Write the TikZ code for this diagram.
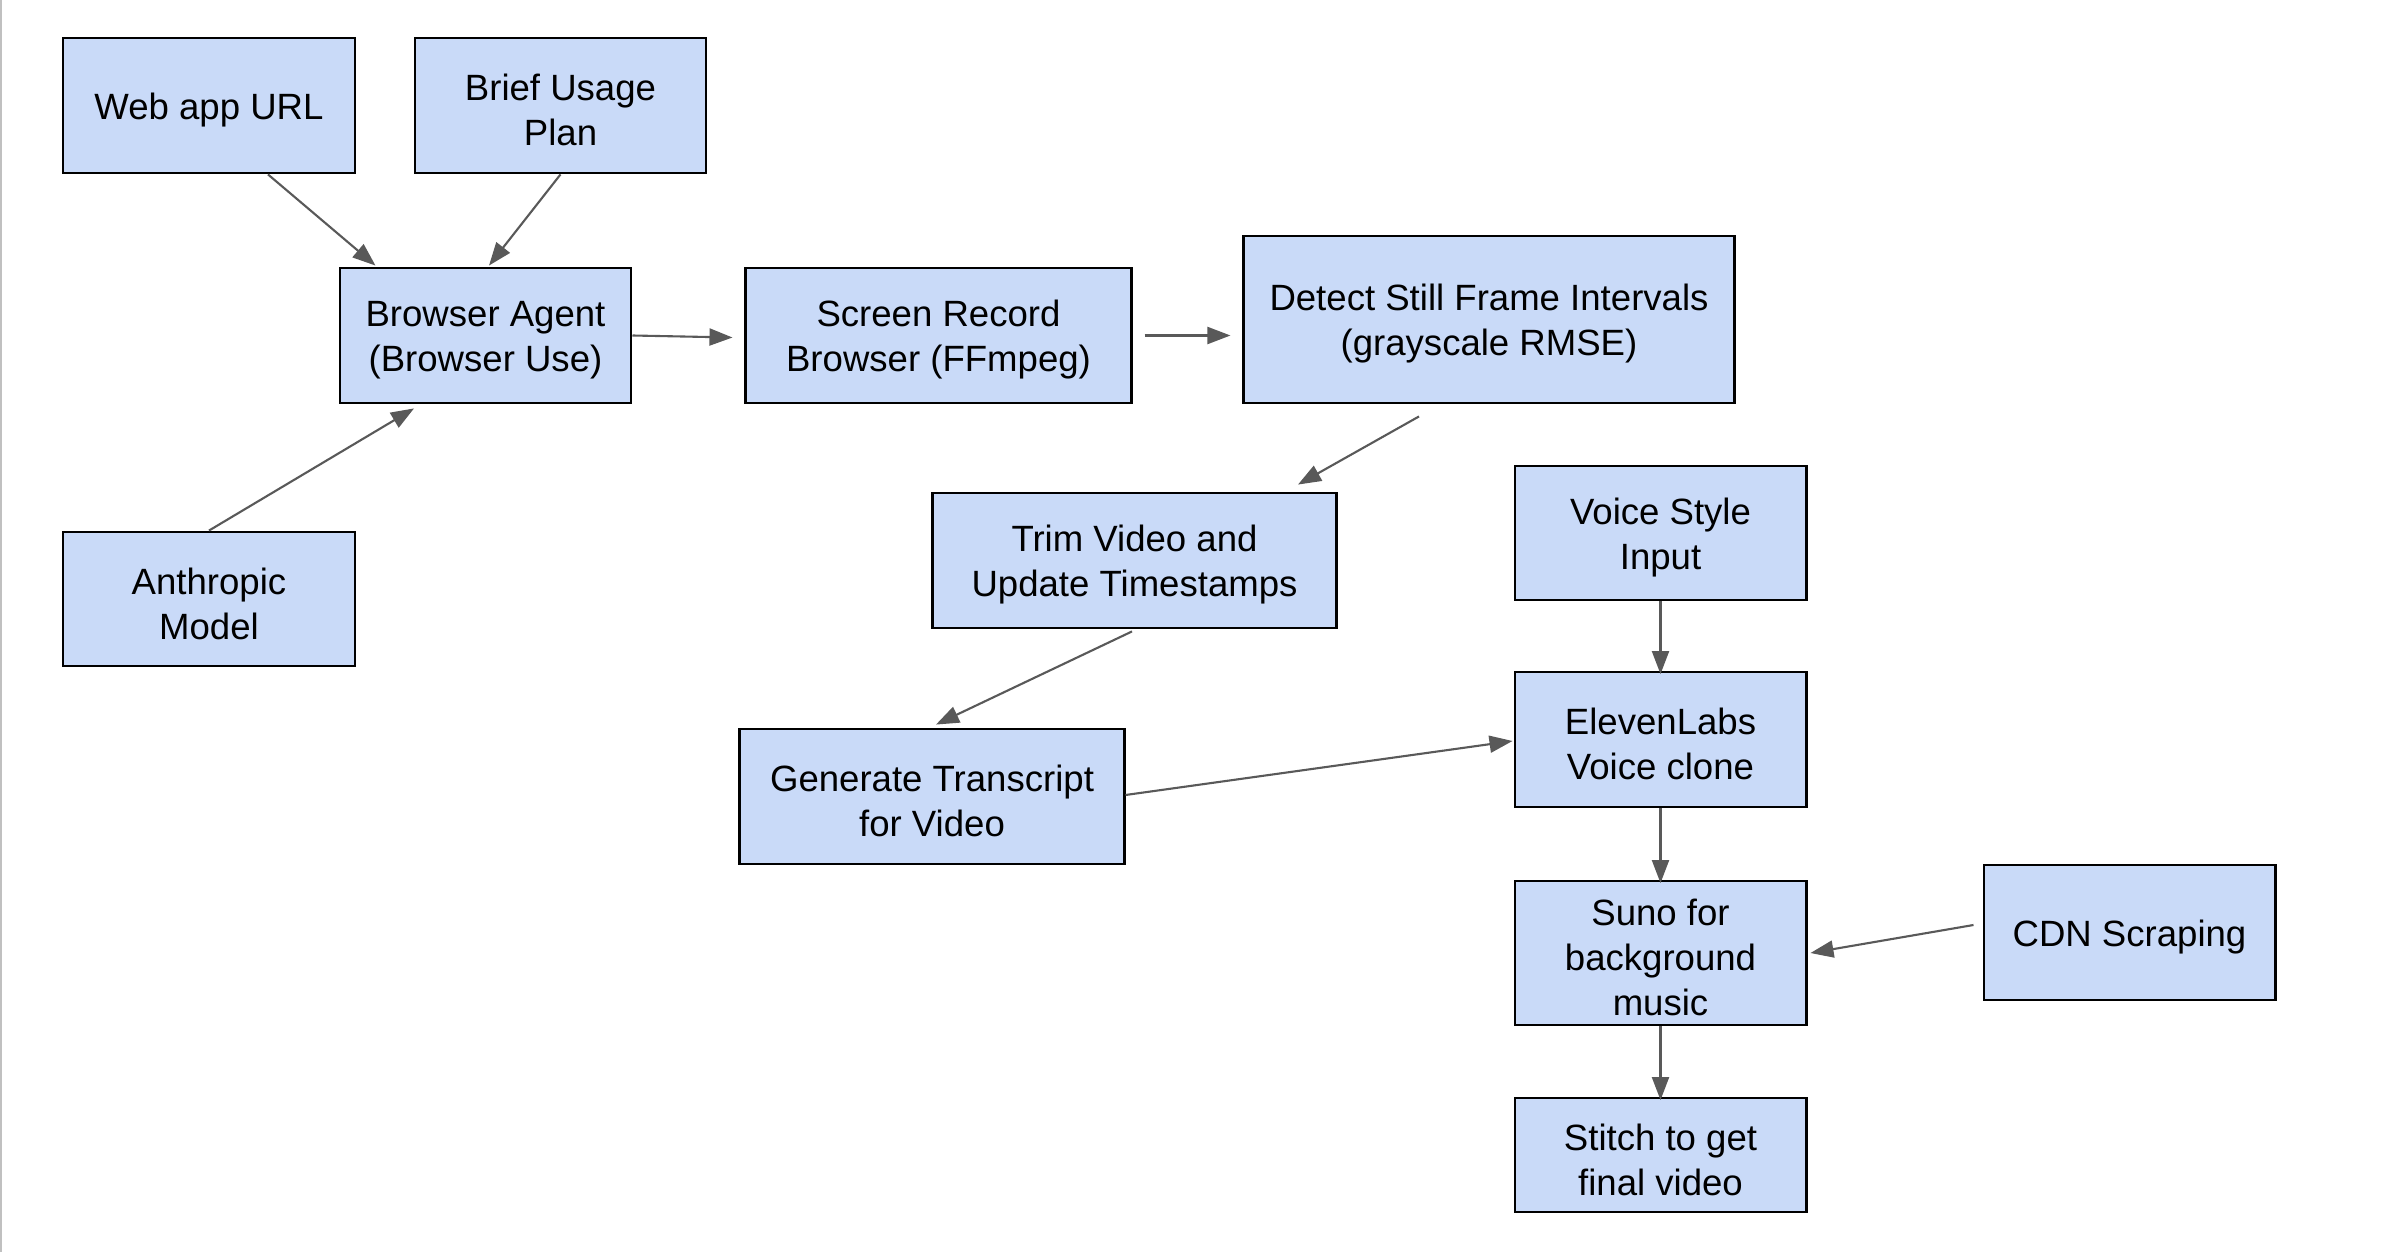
\documentclass[tikz,border=0pt]{standalone}
\usepackage{fontspec}
\setmainfont{Liberation Sans}
\usetikzlibrary{arrows.meta}
\definecolor{boxfill}{HTML}{C9DAF8}
\definecolor{arrgray}{HTML}{595959}
\definecolor{edgegray}{HTML}{C0C0C0}
\begin{document}
\begin{tikzpicture}[x=0.01cm,y=-0.01cm,
  box/.style={draw=black, fill=boxfill, line width=0.028cm, inner sep=0pt, anchor=center},
  txt/.style={align=center, font=\fontsize{10.4}{12.8}\selectfont, inner sep=0pt, yshift=-0.045cm},
  arr/.style={draw=arrgray, line width=0.021cm,
    -{Triangle[length=0.23cm,width=0.17cm]}}]
\useasboundingbox (0,0) rectangle (2402,1252);
\fill[white] (0,0) rectangle (2402,1252);
\draw[edgegray, line width=0.02cm] (1,0) -- (1,1252);

\node[box, minimum width=2.92cm, minimum height=1.35cm, label={[txt]center:{Web app URL}}] (web) at (209,105.5) {};
\node[box, minimum width=2.91cm, minimum height=1.35cm, label={[txt]center:{Brief Usage\\Plan}}] (bu) at (560.5,105.5) {};
\node[box, minimum width=2.91cm, minimum height=1.35cm, label={[txt]center:{Browser Agent\\(Browser Use)}}] (ba) at (485.5,335.5) {};
\node[box, minimum width=2.92cm, minimum height=1.34cm, label={[txt]center:{Anthropic\\Model}}] (am) at (209,599) {};
\node[box, minimum width=3.85cm, minimum height=1.35cm, label={[txt]center:{Screen Record\\Browser (FFmpeg)}}] (sr) at (938.5,335.5) {};
\node[box, minimum width=4.90cm, minimum height=1.67cm, label={[txt]center:{Detect Still Frame Intervals\\(grayscale RMSE)}}] (dt) at (1489,319.5) {};
\node[box, minimum width=4.03cm, minimum height=1.35cm, label={[txt]center:{Trim Video and\\Update Timestamps}}] (tv) at (1134.5,560.5) {};
\node[box, minimum width=2.91cm, minimum height=1.34cm, label={[txt]center:{Voice Style\\Input}}] (vs) at (1660.5,533) {};
\node[box, minimum width=2.91cm, minimum height=1.35cm, label={[txt]center:{ElevenLabs\\Voice clone}}] (el) at (1660.5,739.5) {};
\node[box, minimum width=3.84cm, minimum height=1.35cm, label={[txt]center:{Generate Transcript\\for Video}}] (gt) at (932,796.5) {};
\node[box, minimum width=2.91cm, minimum height=1.44cm, label={[txt]center:{Suno for\\background\\music}}] (su) at (1660.5,953) {};
\node[box, minimum width=2.91cm, minimum height=1.35cm, label={[txt]center:{CDN Scraping}}] (cdn) at (2129.5,932.5) {};
\node[box, minimum width=2.91cm, minimum height=1.14cm, label={[txt]center:{Stitch to get\\final video}}] (st) at (1660.5,1155) {};

\draw[arr] ([shift={(59,0)}]web.south) -- ([shift={(-110,-1)}]ba.north);
\draw[arr] (bu.south) -- ([shift={(3.5,-1)}]ba.north);
\draw[arr] (am.north) -- ([shift={(-71.5,4)}]ba.south);
\draw[arr] (ba.east) -- ([shift={(-12,2)}]sr.west);
\draw[arr] ([shift={(12,0)}]sr.east) -- ([shift={(-12,16)}]dt.west);
\draw[arr] ([shift={(-70,12)}]dt.south) -- ([shift={(163.5,-7)}]tv.north);
\draw[arr] ([shift={(-2.5,2)}]tv.south) -- ([shift={(4,-3)}]gt.north);
\draw[arr] ([shift={(0,-1.5)}]gt.east) -- ([shift={(-1,1.5)}]el.west);
\draw[arr] (vs.south) -- ([yshift=-1]el.north);
\draw[arr] (el.south) -- ([yshift=-1]su.north);
\draw[arr] ([shift={(-9,-7.5)}]cdn.west) -- ([shift={(3,0)}]su.east);
\draw[arr] (su.south) -- ([yshift=-1]st.north);
\end{tikzpicture}
\end{document}
